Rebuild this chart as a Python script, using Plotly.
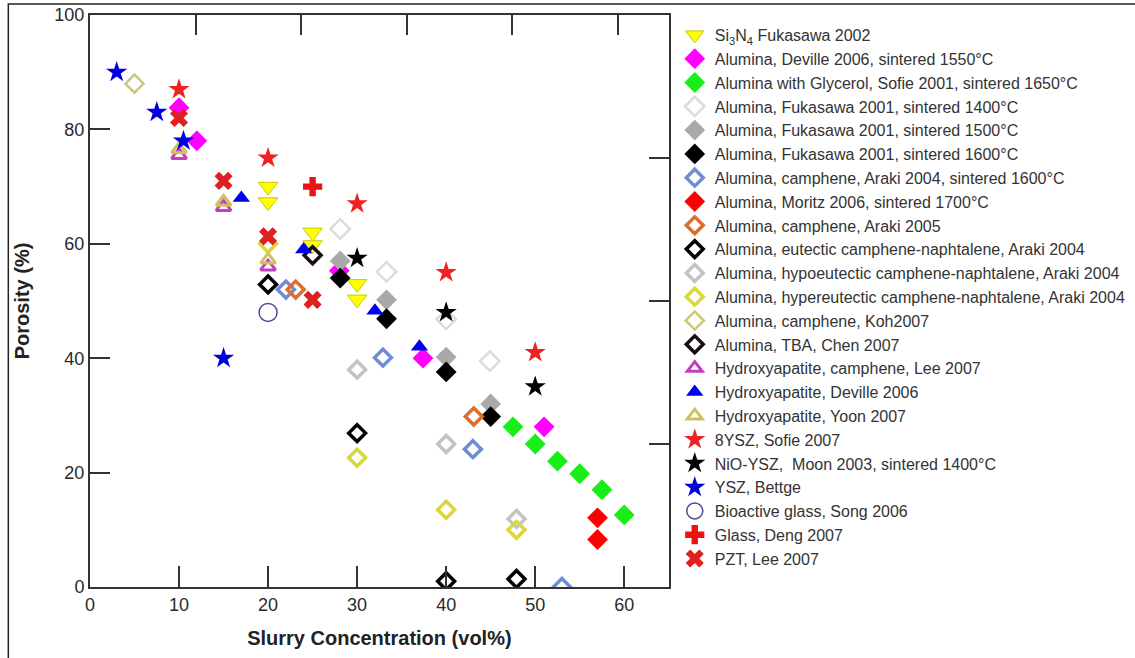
import plotly.graph_objects as go

# ---- data: slurry concentration (vol%) vs porosity (%) ----
si3n4_x = [20, 20, 25, 25, 30, 30]
si3n4_y = [70, 67.3, 62, 59.8, 53, 50.3]

deville_al_x = [10, 12, 28, 37.4, 51]
deville_al_y = [83.8, 78, 55.3, 40, 28]

glycerol_x = [47.5, 50, 52.5, 55, 57.5, 60]
glycerol_y = [28, 25, 22, 19.8, 17, 12.6]

fuka1400_x = [28.1, 33.3, 40, 44.9]
fuka1400_y = [62.6, 55.1, 46.8, 39.5]

fuka1500_x = [28.1, 33.3, 40, 45]
fuka1500_y = [57, 50.2, 40.2, 32]

fuka1600_x = [28.1, 33.3, 40, 45]
fuka1600_y = [54, 46.9, 37.6, 29.8]

araki04_x = [22, 32.9, 43, 53]
araki04_y = [52, 40.1, 24.1, 0]

moritz_x = [57, 57]
moritz_y = [12.1, 8.3]

araki05_x = [23.1, 43.1]
araki05_y = [52, 29.8]

eutectic_x = [20, 30, 40, 47.9]
eutectic_y = [52.9, 26.9, 1, 1.4]

hypo_x = [30, 40, 47.9]
hypo_y = [38, 25, 11.9]

hyper_x = [20, 30, 40, 47.9]
hyper_y = [60, 22.6, 13.5, 10]

koh_x = [5]
koh_y = [88]

chen_x = [25]
chen_y = [58]

ha_lee_x = [10, 15, 20]
ha_lee_y = [75.5, 66.4, 56]

ha_deville_x = [17, 24, 32, 37]
ha_deville_y = [68, 59, 48.3, 42]

ha_yoon_x = [10, 15, 20]
ha_yoon_y = [76.5, 67.3, 57.2]

ysz8_x = [10, 20, 30, 40, 50]
ysz8_y = [87, 75, 67, 55, 41]

nio_x = [30, 40, 50]
nio_y = [57.5, 48, 35]

bettge_x = [3, 7.5, 10.5, 15]
bettge_y = [90, 83, 78, 40]

bioglass_x = [20]
bioglass_y = [48]

deng_x = [25]
deng_y = [70]

pzt_x = [10, 15, 20, 25]
pzt_y = [82, 71, 61.3, 50.2]

x_ticks = [0, 10, 20, 30, 40, 50, 60]
y_ticks = [0, 20, 40, 60, 80, 100]

# (label, x, y, symbol, fill/line colour, marker size, outline colour, outline width)
series = [
    ("Si<sub>3</sub>N<sub>4</sub> Fukasawa 2002", si3n4_x, si3n4_y, "triangle-down", "#ffff00", 17, "#c9c900", 1),
    ("Alumina, Deville 2006, sintered 1550°C", deville_al_x, deville_al_y, "diamond", "#ff00ff", 16, "#ff00ff", 0),
    ("Alumina with Glycerol, Sofie 2001, sintered 1650°C", glycerol_x, glycerol_y, "diamond", "#19ee19", 16, "#19ee19", 0),
    ("Alumina, Fukasawa 2001, sintered 1400°C", fuka1400_x, fuka1400_y, "diamond-open", "#dcdcdc", 15, None, 2.5),
    ("Alumina, Fukasawa 2001, sintered 1500°C", fuka1500_x, fuka1500_y, "diamond", "#a9a9a9", 16, "#a9a9a9", 0),
    ("Alumina, Fukasawa 2001, sintered 1600°C", fuka1600_x, fuka1600_y, "diamond", "#000000", 16, "#000000", 0),
    ("Alumina, camphene, Araki 2004, sintered 1600°C", araki04_x, araki04_y, "diamond-open", "#6d8fd2", 13, None, 3.5),
    ("Alumina, Moritz 2006, sintered 1700°C", moritz_x, moritz_y, "diamond", "#ff0000", 16, "#ff0000", 0),
    ("Alumina, camphene, Araki 2005", araki05_x, araki05_y, "diamond-open", "#dd6e2e", 13, None, 3.5),
    ("Alumina, eutectic camphene-naphtalene, Araki 2004", eutectic_x, eutectic_y, "diamond-open", "#000000", 13, None, 3.5),
    ("Alumina, hypoeutectic camphene-naphtalene, Araki 2004", hypo_x, hypo_y, "diamond-open", "#c3c3c3", 13, None, 3.5),
    ("Alumina, hypereutectic camphene-naphtalene, Araki 2004", hyper_x, hyper_y, "diamond-open", "#d8d83a", 13, None, 3.5),
    ("Alumina, camphene, Koh2007", koh_x, koh_y, "diamond-open", "#c9c97a", 14, None, 2.5),
    ("Alumina, TBA, Chen 2007", chen_x, chen_y, "diamond-open", "#1a0d0d", 13, None, 3.5),
    ("Hydroxyapatite, camphene, Lee 2007", ha_lee_x, ha_lee_y, "triangle-up-open", "#c23fc2", 13, None, 3),
    ("Hydroxyapatite, Deville 2006", ha_deville_x, ha_deville_y, "triangle-up", "#0000ee", 15, "#0000ee", 0),
    ("Hydroxyapatite, Yoon 2007", ha_yoon_x, ha_yoon_y, "triangle-up-open", "#cfc060", 13, None, 3),
    ("8YSZ, Sofie 2007", ysz8_x, ysz8_y, "star", "#ee2222", 16, "#ee2222", 0),
    ("NiO-YSZ,  Moon 2003, sintered 1400°C", nio_x, nio_y, "star", "#000000", 16, "#000000", 0),
    ("YSZ, Bettge", bettge_x, bettge_y, "star", "#0000dd", 16, "#0000dd", 0),
    ("Bioactive glass, Song 2006", bioglass_x, bioglass_y, "circle-open", "#4a4a96", 18, None, 1.5),
    ("Glass, Deng 2007", deng_x, deng_y, "cross", "#ee1111", 16, "#ee1111", 0),
    ("PZT, Lee 2007", pzt_x, pzt_y, "x", "#e02020", 16, "#e02020", 0),
]

W, H = 1135, 658
ML, MR, MT, MB = 90, 4, 15, 71          # figure margins in pixels
PLOT_RIGHT = 671                         # right edge of the axes box in pixels
PW, PH = W - ML - MR, H - MT - MB
X_END = (PLOT_RIGHT - ML) / PW           # x-domain end, leaving room for the legend


def px(xp, yp):
    """Convert page pixels to paper coordinates."""
    return (xp - ML) / PW, (H - MB - yp) / PH


fig = go.Figure()
for i, (name, xs, ys, sym, col, size, edge, lw) in enumerate(series):
    marker = dict(symbol=sym, color=col, size=size)
    if edge is None:
        marker["line"] = dict(color=col, width=lw)
    else:
        marker["line"] = dict(color=edge, width=lw)
    fig.add_trace(go.Scatter(x=xs, y=ys, mode="markers", name=name,
                             marker=marker, legendgroup=f"g{i}"))

# companion axes carrying the top and right tick marks
fig.add_trace(go.Scatter(x=[None], y=[None], xaxis="x2", yaxis="y2",
                         mode="markers", showlegend=False, hoverinfo="skip"))

FONT = "Liberation Sans, Arial, sans-serif"
axis_font = dict(family=FONT, size=18, color="#2a2a2a")
title_font = dict(family=FONT, size=20, color="#222222")
line_col = "#333333"

fig.update_layout(
    width=W, height=H,
    margin=dict(l=ML, r=MR, t=MT, b=MB),
    paper_bgcolor="white", plot_bgcolor="white",
    xaxis=dict(domain=[0, X_END], range=[0, 65], tickvals=x_ticks, ticks="inside",
               ticklen=21, tickwidth=2, tickcolor=line_col, showline=True,
               linecolor=line_col, linewidth=2, showgrid=False, zeroline=False,
               tickfont=axis_font,
               title=dict(text="<b>Slurry Concentration (vol%)</b>", font=title_font, standoff=17)),
    yaxis=dict(range=[0, 100], tickvals=y_ticks, ticks="inside", ticklen=20, tickwidth=2,
               tickcolor=line_col, showline=True, linecolor=line_col, linewidth=2,
               showgrid=False, zeroline=False, tickfont=axis_font,
               title=dict(text="<b>Porosity (%)</b>", font=title_font, standoff=19)),
    xaxis2=dict(domain=[0, X_END], overlaying="x", side="top", range=[0, 65],
                tickvals=[11.85, 23.7, 35.55, 47.4, 59.25], showticklabels=False,
                ticks="inside", ticklen=20, tickwidth=2, tickcolor=line_col,
                showline=True, linecolor=line_col, linewidth=2, showgrid=False, zeroline=False),
    yaxis2=dict(overlaying="y", side="right", anchor="x", range=[0, 100],
                tickvals=[25, 50, 75], showticklabels=False,
                ticks="inside", ticklen=20, tickwidth=2, tickcolor=line_col,
                showline=True, linecolor=line_col, linewidth=2, showgrid=False, zeroline=False),
    legend=dict(x=px(677, 0)[0], xanchor="left", y=px(0, 18)[1], yanchor="top",
                maxheight=640,
                font=dict(family=FONT, size=16, color="#333333"),
                tracegroupgap=0, bgcolor="rgba(0,0,0,0)", borderwidth=0),
    showlegend=True,
)

# thin frame around the whole figure
x0, y0 = px(8, 4)
x1, y1 = px(2000, 1000)
fig.add_shape(type="rect", xref="paper", yref="paper", x0=x0, y0=y1, x1=x1, y1=y0,
              line=dict(color="#222222", width=1.5), layer="below")

fig.write_html("out.html")
